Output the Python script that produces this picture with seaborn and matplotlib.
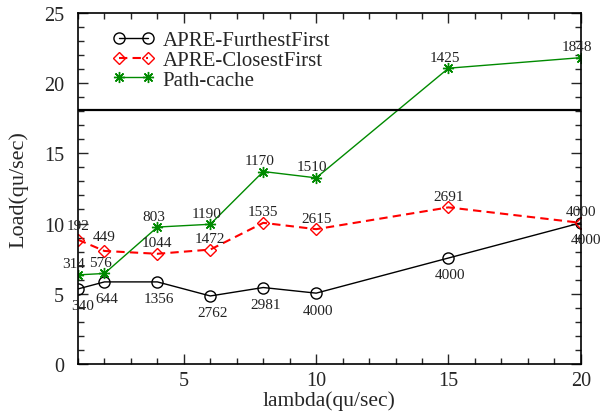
import matplotlib
matplotlib.use("Agg")
import matplotlib.pyplot as plt
import seaborn as sns
import pandas as pd
from matplotlib.ticker import MultipleLocator

# ---- data ----
lam = [1, 2, 4, 6, 8, 10, 15, 20]
furthest = [5.35, 5.85, 5.85, 4.85, 5.45, 5.05, 7.55, 10.05]
closest = [8.85, 8.05, 7.85, 8.15, 10.05, 9.6, 11.15, 10.05]
pathcache = [6.35, 6.45, 9.75, 9.95, 13.7, 13.25, 21.05, 21.8]
furthest_lbl = ["340", "644", "1356", "2762", "2981", "4000", "4000", "4000"]
closest_lbl = ["192", "449", "1044", "1472", "1535", "2615", "2691", "4000"]
path_lbl = ["314", "576", "803", "1190", "1170", "1510", "1425", "1848"]
threshold = 18.1
series_names = ["APRE-FurthestFirst", "APRE-ClosestFirst", "Path-cache"]

sns.set_style("ticks")
plt.rcParams["font.family"] = ["Liberation Serif", "DejaVu Serif"]
plt.rcParams["mathtext.fontset"] = "stix"

fig = plt.figure(figsize=(6.0, 4.14), dpi=100)
ax = fig.add_axes([0.13, 0.118, 0.838, 0.849])

df = pd.DataFrame({"lambda": lam, "f": furthest, "c": closest, "p": pathcache})

sns.lineplot(data=df, x="lambda", y="f", ax=ax, color="black", lw=1.0,
             marker="o", markersize=8, markerfacecolor="none",
             markeredgecolor="black", markeredgewidth=1.0,
             label=series_names[0])
sns.lineplot(data=df, x="lambda", y="c", ax=ax, color="red", lw=1.5,
             dashes=(4, 2.5), marker="D", markersize=6.5,
             markerfacecolor="none", markeredgecolor="red",
             markeredgewidth=1.0, label=series_names[1])
sns.lineplot(data=df, x="lambda", y="p", ax=ax, color="#008a00", lw=1.0,
             marker=(8, 2, 0), markersize=8, markeredgecolor="#008a00",
             markeredgewidth=1.0, label=series_names[2])

ax.axhline(threshold, color="black", lw=1.6)

afs = 11
for i, (x, y, t) in enumerate(zip(lam, furthest, furthest_lbl)):
    dx = 5 if i in (0, 7) else 2
    ax.annotate(t, (x, y), xytext=(dx, -17), textcoords="offset pixels",
                ha="center", va="center", fontsize=afs, color="#222222",
                annotation_clip=False)
for i, (x, y, t) in enumerate(zip(lam, closest, closest_lbl)):
    dy = 14 if i in (0, 1) else 11
    ax.annotate(t, (x, y), xytext=(0, dy), textcoords="offset pixels",
                ha="center", va="center", fontsize=afs, color="#222222",
                annotation_clip=False)
for i, (x, y, t) in enumerate(zip(lam, pathcache, path_lbl)):
    ax.annotate(t, (x, y), xytext=(-4, 11), textcoords="offset pixels",
                ha="center", va="center", fontsize=afs, color="#222222",
                annotation_clip=False)

ax.set_xlim(1, 20)
ax.set_ylim(0, 25)
ax.xaxis.set_major_locator(MultipleLocator(5))
ax.xaxis.set_minor_locator(MultipleLocator(1))
ax.yaxis.set_major_locator(MultipleLocator(5))
ax.yaxis.set_minor_locator(MultipleLocator(1))
ax.tick_params(which="both", direction="in", top=True, right=True,
               labelsize=14.5, width=1.0)
ax.tick_params(which="major", length=7)
ax.tick_params(which="minor", length=4)
ax.tick_params(axis="y", which="both", pad=10)
ax.tick_params(axis="x", which="both", pad=5)
for s in ax.spines.values():
    s.set_visible(True)
    s.set_linewidth(1.2)
    s.set_color("black")

ax.set_xlabel("lambda(qu/sec)", fontsize=15.5, labelpad=0)
ax.set_ylabel("Load(qu/sec)", fontsize=16, labelpad=11)

leg = ax.legend(loc="upper left", bbox_to_anchor=(0.052, 0.972), frameon=False,
                fontsize=15, numpoints=2, handlelength=2.0, handletextpad=0.4,
                labelspacing=0.0, borderaxespad=0)

fig.savefig("out.png", dpi=100)
